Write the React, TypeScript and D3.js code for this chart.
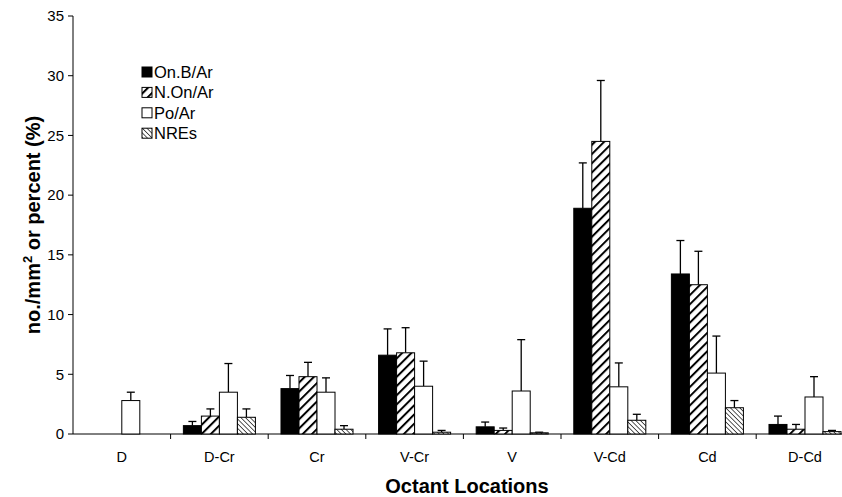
import React from "react";
import * as d3 from "d3";

const categories = ["D", "D-Cr", "Cr", "V-Cr", "V", "V-Cd", "Cd", "D-Cd"];
const seriesNames = ["On.B/Ar", "N.On/Ar", "Po/Ar", "NREs"];
const onbValues = [0, 0.7, 3.8, 6.6, 0.6, 18.9, 13.4, 0.8];
const onbErrors = [0, 0.35, 1.1, 2.2, 0.4, 3.8, 2.8, 0.7];
const nonValues = [0, 1.5, 4.8, 6.8, 0.3, 24.5, 12.5, 0.4];
const nonErrors = [0, 0.6, 1.2, 2.1, 0.2, 5.1, 2.8, 0.4];
const poValues = [2.8, 3.5, 3.5, 4.0, 3.6, 3.95, 5.1, 3.1];
const poErrors = [0.7, 2.4, 1.2, 2.1, 4.3, 2.0, 3.1, 1.7];
const nreValues = [0, 1.4, 0.4, 0.15, 0.1, 1.15, 2.2, 0.2];
const nreErrors = [0, 0.7, 0.3, 0.15, 0.05, 0.5, 0.6, 0.1];
const yTicks = [0, 5, 10, 15, 20, 25, 30, 35];

const values = [onbValues, nonValues, poValues, nreValues];
const errors = [onbErrors, nonErrors, poErrors, nreErrors];
const fills = ["#000", "url(#hatchA)", "#fff", "url(#hatchB)"];

export default function App() {
  const W = 842, H = 497;
  const x0 = 73, y0 = 434;
  const x = d3.scaleBand<string>().domain(categories).range([x0, x0 + 97.6 * 8]).paddingInner(0.262).paddingOuter(0.131);
  const xs = d3.scaleBand<string>().domain(seriesNames).range([0, x.bandwidth()]);
  const y = d3.scaleLinear().domain([0, 35]).range([y0, 16]);
  const step = x.step();
  const font = "Liberation Sans, Arial, sans-serif";
  return (
    <svg width={W} height={H} style={{ position: "absolute", left: 0, top: 0 }}>
      <defs>
        <pattern id="hatchA" patternUnits="userSpaceOnUse" width="6.5" height="6.5" patternTransform="rotate(45)">
          <rect width="6.5" height="6.5" fill="#fff" />
          <line x1="0" y1="0" x2="0" y2="6.5" stroke="#000" strokeWidth="4" />
        </pattern>
        <pattern id="hatchB" patternUnits="userSpaceOnUse" width="3.3" height="3.3" patternTransform="rotate(-45)">
          <rect width="3.3" height="3.3" fill="#fff" />
          <line x1="0" y1="0" x2="0" y2="3.3" stroke="#000" strokeWidth="1.3" />
        </pattern>
      </defs>
      <rect width={W} height={H} fill="#fff" />
      {/* axes */}
      <line x1={x0} x2={x0} y1={16} y2={y0} stroke="#000" />
      {yTicks.map((t) => (
        <g key={t}>
          <line x1={x0 - 5} x2={x0} y1={y(t)} y2={y(t)} stroke="#000" />
          <text x={x0 - 9} y={y(t)} dy="0.35em" textAnchor="end" fontSize={15} fontFamily={font}>{t}</text>
        </g>
      ))}
      <line x1={x0} x2={W} y1={y0} y2={y0} stroke="#000" />
      {categories.map((c, i) => (
        <g key={c}>
          <line x1={x0 + step * (i + 1)} x2={x0 + step * (i + 1)} y1={y0} y2={y0 + 5} stroke="#000" />
          <text x={(x(c) as number) + x.bandwidth() / 2} y={462} textAnchor="middle" fontSize={14.5} fontFamily={font}>{c}</text>
        </g>
      ))}
      {/* bars */}
      {seriesNames.map((s, si) => (
        <g key={s}>
          {categories.map((c, i) => {
            const v = values[si][i];
            if (v <= 0) return null;
            const bx = (x(c) as number) + (xs(s) as number);
            const bw = xs.bandwidth();
            const e = errors[si][i];
            const cx = bx + bw / 2;
            return (
              <g key={c}>
                <line x1={cx} x2={cx} y1={y(v)} y2={y(v + e)} stroke="#000" strokeWidth={1.3} />
                <line x1={cx - 4} x2={cx + 4} y1={y(v + e)} y2={y(v + e)} stroke="#000" strokeWidth={1.3} />
                <rect x={bx} y={y(v)} width={bw} height={y0 - y(v)} fill={fills[si]} stroke="#000" strokeWidth={1} />
              </g>
            );
          })}
        </g>
      ))}
      {/* legend */}
      {seriesNames.map((s, si) => (
        <g key={s} transform={`translate(142, ${72 + si * 20.4})`}>
          <rect x={0} y={-5} width={10} height={10} fill={fills[si]} stroke="#000" strokeWidth={1} />
          <text x={12} y={0} dy="0.35em" fontSize={16.5} fontFamily={font}>{s}</text>
        </g>
      ))}
      {/* titles */}
      <text x={467} y={493} textAnchor="middle" fontSize={20} fontWeight="bold" fontFamily={font}>Octant Locations</text>
      <text transform={`translate(40, ${y(17.5)}) rotate(-90)`} textAnchor="middle" fontSize={20} fontWeight="bold" fontFamily={font}>
        no./mm<tspan dy={-8} fontSize={13}>2</tspan><tspan dy={8}> or percent (%)</tspan>
      </text>
    </svg>
  );
}
